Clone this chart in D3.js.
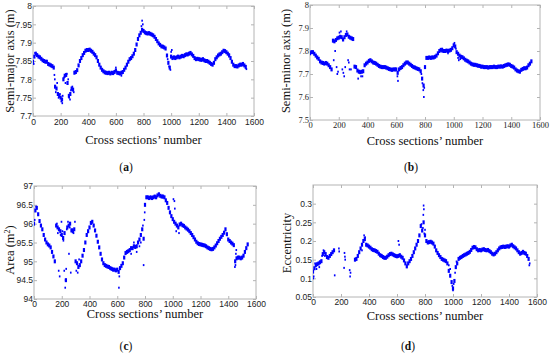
<!DOCTYPE html>
<html><head><meta charset="utf-8">
<script src="https://cdn.jsdelivr.net/npm/d3@7/dist/d3.min.js"></script>
<style>
html,body{margin:0;padding:0;background:#fff;}
svg{display:block;}
</style></head>
<body>
<svg id="chart" width="550" height="354"></svg>
<script>
// cross-section numbers (x categories)
const sections = d3.range(0, 1550, 10);
const xTicks = [0,200,400,600,800,1000,1200,1400,1600];

const semiMajor = [
7.848,7.862,7.870,7.866,7.862,7.860,7.856,7.852,7.850,7.848,
7.848,7.842,7.840,7.838,7.836,7.832,7.780,7.775,7.760,7.755,
7.750,7.745,7.800,7.810,7.812,7.790,7.755,7.760,7.775,7.772,
7.818,7.820,7.825,7.838,7.850,7.858,7.866,7.872,7.878,7.880,
7.880,7.881,7.878,7.875,7.870,7.866,7.860,7.850,7.840,7.832,
7.826,7.822,7.819,7.818,7.817,7.818,7.816,7.818,7.817,7.820,
7.824,7.818,7.817,7.816,7.818,7.820,7.826,7.832,7.840,7.848,
7.855,7.858,7.863,7.870,7.880,7.895,7.910,7.920,7.927,7.935,
7.932,7.928,7.926,7.925,7.926,7.924,7.922,7.920,7.916,7.910,
7.904,7.898,7.894,7.890,7.889,7.887,7.884,7.865,7.845,7.832,
7.862,7.858,7.860,7.858,7.860,7.862,7.860,7.862,7.864,7.863,
7.866,7.868,7.868,7.870,7.872,7.868,7.864,7.858,7.855,7.856,
7.855,7.854,7.853,7.855,7.852,7.850,7.850,7.848,7.845,7.842,
7.840,7.845,7.855,7.860,7.865,7.868,7.870,7.874,7.878,7.877,
7.874,7.870,7.865,7.858,7.848,7.840,7.836,7.836,7.835,7.838,
7.840,7.840,7.842,7.838,7.834];
const semiMajorExtra = [[5,7.842],[15,7.872],[155,7.812],[158,7.80],[165,7.765],[175,7.79],[185,7.75],[195,7.76],[205,7.74],[212,7.735],[215,7.755],[225,7.805],[235,7.79],[245,7.815],[255,7.80],[262,7.75],[268,7.745],[275,7.77],[285,7.78],[295,7.765],[600,7.832],[640,7.81],[785,7.945],[790,7.96],[795,7.95],[975,7.855],[985,7.835],[995,7.826],[1000,7.875],[1005,7.88],[1420,7.868],[1545,7.828]];
const semiMajorTicks = [7.7,7.75,7.8,7.85,7.9,7.95,8];

const semiMinor = [
7.790,7.795,7.795,7.788,7.780,7.772,7.766,7.755,7.750,7.748,
7.745,7.748,7.745,7.738,7.730,7.720,7.845,7.842,7.848,7.855,
7.858,7.862,7.860,7.850,7.860,7.870,7.872,7.862,7.858,7.855,
7.852,7.732,7.730,7.715,7.710,7.708,7.710,7.712,7.738,7.745,
7.750,7.757,7.760,7.755,7.750,7.748,7.745,7.740,7.735,7.732,
7.730,7.730,7.730,7.728,7.725,7.722,7.720,7.718,7.720,7.720,
7.720,7.705,7.720,7.726,7.730,7.738,7.745,7.750,7.750,7.745,
7.740,7.735,7.730,7.728,7.725,7.722,7.720,7.712,7.680,7.650,
7.730,7.770,7.770,7.772,7.770,7.772,7.772,7.775,7.780,7.790,
7.800,7.805,7.802,7.800,7.800,7.802,7.800,7.802,7.805,7.812,
7.825,7.820,7.795,7.788,7.780,7.775,7.773,7.768,7.762,7.758,
7.755,7.750,7.745,7.742,7.740,7.740,7.738,7.736,7.735,7.732,
7.732,7.730,7.730,7.730,7.728,7.730,7.730,7.730,7.732,7.730,
7.730,7.732,7.732,7.733,7.732,7.735,7.738,7.740,7.742,7.740,
7.735,7.732,7.728,7.720,7.715,7.712,7.710,7.718,7.722,7.725,
7.725,7.728,7.738,7.745,7.755];
const semiMinorExtra = [[165,7.76],[175,7.80],[185,7.73],[190,7.70],[195,7.71],[205,7.88],[215,7.885],[225,7.72],[232,7.705],[238,7.69],[245,7.73],[255,7.885],[265,7.76],[270,7.75],[275,7.72],[285,7.72],[295,7.85],[335,7.68],[355,7.69],[365,7.69],[608,7.69],[612,7.67],[775,7.70],[782,7.66],[788,7.63],[792,7.60],[795,7.64],[920,7.81],[960,7.79],[1005,7.835],[1015,7.81],[1030,7.77],[1035,7.76],[1045,7.765]];
const semiMinorTicks = [7.5,7.6,7.7,7.8,7.9,8];

const area = [
96.00,96.35,96.42,96.25,96.07,95.95,95.85,95.70,95.58,95.50,
95.45,95.42,95.37,95.25,95.13,95.00,95.95,95.90,95.85,95.80,
95.70,95.62,95.75,94.50,95.90,95.95,96.00,95.82,95.80,95.85,
95.00,94.95,94.85,94.90,95.00,95.15,95.30,95.50,95.70,95.80,
95.90,96.02,96.05,95.95,95.82,95.68,95.52,95.37,95.20,95.05,
94.95,94.90,94.88,94.86,94.85,94.82,94.80,94.78,94.78,94.76,
94.78,94.72,94.82,94.88,94.95,95.10,95.22,95.25,95.27,95.30,
95.35,95.35,95.40,95.38,95.40,95.50,95.58,95.70,95.85,95.60,
96.50,96.70,96.70,96.68,96.70,96.68,96.70,96.72,96.70,96.75,
96.78,96.74,96.72,96.72,96.70,96.62,96.55,96.42,96.30,96.20,
96.12,96.05,96.00,95.95,95.90,95.98,96.00,95.96,95.94,95.90,
95.87,95.84,95.80,95.75,95.70,95.64,95.58,95.52,95.48,95.46,
95.45,95.44,95.43,95.42,95.40,95.37,95.35,95.33,95.32,95.33,
95.37,95.42,95.48,95.54,95.60,95.65,95.70,95.76,95.85,95.72,
95.58,95.54,95.50,95.47,95.43,95.00,95.08,95.10,95.10,95.08,
95.10,95.15,95.25,95.35,95.45];
const areaExtra = [[5,96.1],[15,96.45],[165,96.0],[172,95.75],[178,94.75],[185,94.6],[192,95.7],[198,96.05],[205,95.8],[212,95.55],[218,94.75],[225,94.3],[228,94.5],[232,94.8],[236,95.85],[245,96.05],[252,95.2],[258,95.9],[265,94.7],[275,95.85],[285,95.75],[295,96.05],[305,94.75],[315,94.7],[325,95.05],[612,94.3],[615,94.6],[700,95.2],[720,95.5],[740,95.25],[760,95.4],[770,95.5],[785,95.95],[790,94.9],[795,96.1],[798,96.3],[1005,96.65],[1012,96.6],[1015,96.4],[1025,95.8],[1045,95.75],[1448,94.85],[1452,94.9],[1455,95.2],[1458,95.3]];
const areaTicks = [94,94.5,95,95.5,96,96.5,97];

const eccentricity = [
0.118,0.127,0.135,0.138,0.140,0.143,0.146,0.165,0.170,0.165,
0.157,0.155,0.160,0.165,0.170,0.175,null,null,null,null,
null,null,null,null,null,null,null,null,null,null,
0.150,0.152,0.160,0.170,0.180,0.190,0.200,0.205,0.190,0.188,
0.185,0.182,0.178,0.176,0.175,0.173,0.171,0.166,0.162,0.160,
0.157,0.155,0.155,0.158,0.162,0.165,0.166,0.164,0.162,0.160,
0.159,0.160,0.162,0.158,0.155,0.148,0.140,0.132,0.140,0.146,
0.152,0.160,0.170,0.180,0.190,0.200,0.215,0.240,0.228,0.250,
0.215,0.200,0.196,0.197,0.198,0.196,0.193,0.185,0.175,0.168,
0.162,0.157,0.152,0.150,0.148,0.146,0.140,0.120,0.107,0.090,
0.073,0.093,0.130,0.140,0.152,0.155,0.157,0.160,0.162,0.164,
0.166,0.168,0.171,0.176,0.182,0.184,0.183,0.178,0.175,0.176,
0.175,0.177,0.178,0.176,0.175,0.176,0.173,0.170,0.166,0.164,
0.166,0.170,0.175,0.180,0.183,0.184,0.185,0.184,0.185,0.186,
0.185,0.188,0.190,0.186,0.183,0.180,0.175,0.170,0.166,0.168,
0.171,0.168,0.166,0.160,0.152];
const eccentricityExtra = [[2,0.100],[5,0.105],[15,0.14],[25,0.125],[45,0.13],[65,0.16],[75,0.175],[85,0.16],[155,0.108],[185,0.180],[187,0.172],[222,0.128],[225,0.168],[228,0.158],[230,0.150],[262,0.122],[265,0.105],[268,0.115],[350,0.175],[365,0.215],[372,0.21],[610,0.200],[615,0.19],[775,0.245],[785,0.235],[788,0.27],[790,0.295],[792,0.285],[795,0.22],[800,0.23],[970,0.135],[980,0.125],[995,0.08],[1000,0.068],[1005,0.085],[1015,0.115],[1025,0.145],[1545,0.135],[1548,0.14]];
const eccentricityTicks = [0.05,0.1,0.15,0.2,0.25,0.3];

const panels = [
  {values: semiMajor, extra: semiMajorExtra, ticks: semiMajorTicks, domain:[7.7,8],
   left:33, top:6, w:221, h:110, ylabel:"Semi-major axis (m)", yl:{x:14,y:61},
   xl:{y:144}, tag:"a", tagPos:{x:126,y:171}, font:"'Liberation Sans', Arial, sans-serif", xtdy:9},
  {values: semiMinor, extra: semiMinorExtra, ticks: semiMinorTicks, domain:[7.5,8],
   left:310, top:5, w:230, h:115, ylabel:"Semi-minor axis (m)", yl:{x:290,y:61},
   xl:{y:145}, tag:"b", tagPos:{x:411,y:171}, font:"'Liberation Serif', 'Times New Roman', serif", xtdy:8},
  {values: area, extra: areaExtra, ticks: areaTicks, domain:[94,97],
   left:34, top:186, w:222, h:113, ylabel:"Area (m", sup:"2", ylabelEnd:")", yl:{x:14,y:250},
   xl:{y:318}, tag:"c", tagPos:{x:126,y:350}, font:"'Liberation Sans', Arial, sans-serif", xtdy:7.5},
  {values: eccentricity, extra: eccentricityExtra, ticks: eccentricityTicks, domain:[0.05,0.35],
   left:313, top:185, w:224, h:112, ylabel:"Eccentricity", yl:{x:291,y:243},
   xl:{y:320}, tag:"d", tagPos:{x:408,y:350}, font:"'Liberation Sans', Arial, sans-serif", xtdy:7.5}
];

const svg = d3.select("#chart");
const BLUE = "#0000ff";
const BOX = "#b4b4b4";

panels.forEach(p => {
  const x = d3.scaleLinear().domain([0,1600]).range([p.left, p.left + p.w]);
  const y = d3.scaleLinear().domain(p.domain).range([p.top + p.h, p.top]);
  const g = svg.append("g");

  g.append("rect").attr("x", p.left).attr("y", p.top).attr("width", p.w).attr("height", p.h)
    .attr("fill", "#fff").attr("stroke", BOX).attr("stroke-width", 1);

  const clip = "clip" + p.tag;
  svg.append("clipPath").attr("id", clip).append("rect")
    .attr("x", p.left).attr("y", p.top).attr("width", p.w).attr("height", p.h);

  const styleAxis = (sel) => {
    sel.select(".domain").remove();
    sel.selectAll(".tick line").attr("stroke", BOX);
    sel.selectAll(".tick text").attr("fill", "#222").style("font-family", p.font).style("font-size", "8.5px");
  };
  const xb = g.append("g").attr("transform", `translate(0,${p.top + p.h})`)
    .call(d3.axisBottom(x).tickValues(xTicks).tickSizeInner(-3).tickSizeOuter(0).tickPadding(0).tickFormat(d3.format("d")));
  styleAxis(xb);
  xb.selectAll(".tick text").attr("dy", null).attr("y", p.xtdy);
  const xt = g.append("g").attr("transform", `translate(0,${p.top})`)
    .call(d3.axisTop(x).tickValues(xTicks).tickSizeInner(-3).tickSizeOuter(0).tickFormat(""));
  styleAxis(xt);
  const yl = g.append("g").attr("transform", `translate(${p.left},0)`)
    .call(d3.axisLeft(y).tickValues(p.ticks).tickSizeInner(-3).tickSizeOuter(0).tickPadding(1).tickFormat(d => String(+d.toFixed(3))));
  styleAxis(yl);
  yl.selectAll(".tick text").attr("x", -1);
  const yr = g.append("g").attr("transform", `translate(${p.left + p.w},0)`)
    .call(d3.axisRight(y).tickValues(p.ticks).tickSizeInner(-3).tickSizeOuter(0).tickFormat(""));
  styleAxis(yr);

  const pts = sections.map((s, i) => [s, p.values[i]]).filter(d => d[1] != null);
  const dg = g.append("g").attr("clip-path", `url(#${clip})`);
  dg.selectAll("rect.m").data(pts).enter().append("rect").attr("class", "m")
    .attr("x", d => x(d[0]) - 1.1).attr("y", d => y(d[1]) - 2)
    .attr("width", 2.2).attr("height", 4).attr("fill", BLUE);
  dg.selectAll("rect.e").data(p.extra).enter().append("rect").attr("class", "e")
    .attr("x", d => x(d[0]) - 0.8).attr("y", d => y(d[1]) - 1)
    .attr("width", 1.6).attr("height", 2).attr("fill", BLUE);

  g.append("text").attr("x", p.left + p.w / 2).attr("y", p.xl.y).attr("text-anchor", "middle")
    .style("font-family", "'Liberation Serif', 'Times New Roman', serif").style("font-size", "12.5px")
    .attr("fill", "#111").text("Cross sections\u2019 number");

  const t = g.append("text").attr("transform", `translate(${p.yl.x},${p.yl.y}) rotate(-90)`)
    .attr("text-anchor", "middle")
    .style("font-family", "'Liberation Serif', 'Times New Roman', serif").style("font-size", "12.5px")
    .attr("fill", "#111");
  t.append("tspan").text(p.ylabel);
  if (p.sup) {
    t.append("tspan").attr("dy", -4).style("font-size", "8px").text(p.sup);
    t.append("tspan").attr("dy", 4).text(p.ylabelEnd);
  }

  const tg = svg.append("text").attr("x", p.tagPos.x).attr("y", p.tagPos.y).attr("text-anchor", "middle")
    .style("font-family", "'Liberation Serif', 'Times New Roman', serif").style("font-size", "11.5px").attr("fill", "#111");
  tg.append("tspan").text("(");
  tg.append("tspan").style("font-weight", "bold").text(p.tag);
  tg.append("tspan").text(")");
});
</script>
</body></html>
